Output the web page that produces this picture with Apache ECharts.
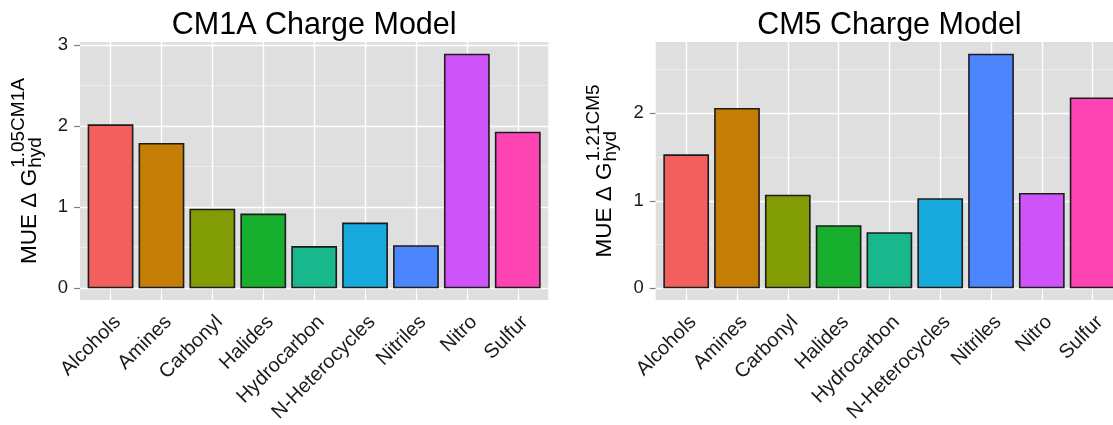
<!DOCTYPE html>
<html>
<head>
<meta charset="utf-8">
<script src="https://cdn.jsdelivr.net/npm/echarts@6/dist/echarts.min.js"></script>
<style>
  html, body { margin: 0; padding: 0; background: #ffffff; overflow: hidden; width: 1113px; height: 425px; }
  #chart { width: 1140px; height: 425px; }
</style>
</head>
<body>
<div id="chart"></div>
<script>
// Functional-group categories shared by both panels
const categories = ['Alcohols', 'Amines', 'Carbonyl', 'Halides', 'Hydrocarbon',
                    'N-Heterocycles', 'Nitriles', 'Nitro', 'Sulfur'];

// Mean unsigned error of hydration free energy, per group
const cm1aMue = [2.02, 1.79, 0.98, 0.92, 0.52, 0.81, 0.53, 2.89, 1.93];
const cm5Mue  = [1.53, 2.06, 1.07, 0.72, 0.64, 1.03, 2.68, 1.09, 2.18];

// Axis breaks
const cm1aTicks = [0, 1, 2, 3];
const cm5Ticks  = [0, 1, 2];
const cm1aMinor = [0.5, 1.5, 2.5];
const cm5Minor  = [0.5, 1.5, 2.5];

// Fill colour per group
const groupColors = ['#F35F5C', '#C57E05', '#829C06', '#18AF2F', '#18B78C',
                     '#17AADC', '#4D85FE', '#CE53F8', '#FE43B3'];

const FONT = '"Liberation Sans", Arial, Helvetica, sans-serif';
const TEXT_COLOR = '#1a1a1a';
const TICK_COLOR = '#7f7f7f';
const PANEL_BG = '#DFDFDF';

const panels = [
  { title: 'CM1A Charge Model', values: cm1aMue, ticks: cm1aTicks, minor: cm1aMinor,
    sup: '1.05CM1A', left: 80, top: 42, width: 468.3, height: 258, titleX: 30 },
  { title: 'CM5 Charge Model', values: cm5Mue, ticks: cm5Ticks, minor: cm5Minor,
    sup: '1.21CM5', left: 655.7, top: 42, width: 467.4, height: 258, titleX: 605 }
];

const positions = categories.map((_, i) => i + 1);

const measureCtx = document.createElement('canvas').getContext('2d');
function textWidth(str, size) {
  measureCtx.font = size + 'px ' + FONT;
  return measureCtx.measureText(str).width;
}

const grids = [], xAxes = [], yAxes = [], series = [], graphics = [];

panels.forEach((p, k) => {
  const vmax = Math.max(...p.values);
  const yMin = -0.05 * vmax, yMax = 1.05 * vmax;
  const unit = p.width / 9.2;

  grids.push({
    left: p.left, top: p.top, width: p.width, height: p.height,
    show: true, backgroundColor: PANEL_BG, borderWidth: 0, containLabel: false
  });

  xAxes.push({
    type: 'value', gridIndex: k, min: 0.4, max: 9.6,
    axisLine: { show: false },
    splitLine: { show: false },
    axisTick: { show: true, length: 6, customValues: positions,
                lineStyle: { color: TICK_COLOR, width: 1.2 } },
    axisLabel: {
      customValues: positions, rotate: 45, margin: 12,
      align: 'right', verticalAlign: 'top',
      formatter: v => categories[Math.round(v) - 1] || '',
      color: TEXT_COLOR, fontSize: 20, fontFamily: FONT
    }
  });

  yAxes.push({
    type: 'value', gridIndex: k, min: yMin, max: yMax,
    axisLine: { show: false },
    splitLine: { show: false },
    axisTick: { show: true, length: 6, customValues: p.ticks,
                lineStyle: { color: TICK_COLOR, width: 1.2 } },
    axisLabel: {
      customValues: p.ticks, margin: 12,
      color: TEXT_COLOR, fontSize: 18.5, fontFamily: FONT
    }
  });

  // Panel grid lines drawn beneath the bars
  const gridLines = []
    .concat(p.minor.map(v => ({ yAxis: v, lineStyle: { color: '#F2F2F2', width: 0.7, type: 'solid' } })))
    .concat(p.ticks.map(v => ({ yAxis: v, lineStyle: { color: '#FFFFFF', width: 1.4, type: 'solid' } })))
    .concat(positions.map(v => ({ xAxis: v, lineStyle: { color: '#FFFFFF', width: 1.4, type: 'solid' } })));

  series.push({
    type: 'bar', xAxisIndex: k, yAxisIndex: k, z: 3,
    barWidth: unit * 0.9,
    animation: false,
    data: p.values.map((v, i) => ({
      value: [positions[i], v],
      itemStyle: { color: groupColors[i] }
    })),
    itemStyle: { borderColor: '#1c1c1c', borderWidth: 1.6 },
    markLine: {
      silent: true, symbol: 'none', z: 1, animation: false,
      label: { show: false },
      data: gridLines
    }
  });

  // Panel heading
  graphics.push({
    type: 'text', x: p.left + p.width / 2, y: 26,
    style: { text: p.title, font: '30.5px ' + FONT, fill: '#000000',
             align: 'center', verticalAlign: 'middle' }
  });

  // Rotated y-axis title: MUE Δ G with stacked super/subscript
  const mainStr = 'MUE \u0394 G';
  const mainSize = 22.5, smallSize = 19;
  const wMain = textWidth(mainStr, mainSize);
  const wSmall = Math.max(textWidth(p.sup, smallSize), textWidth('hyd', smallSize));
  const total = wMain + 1 + wSmall;
  const centerY = p.top + p.height / 2;
  graphics.push({
    type: 'group', x: p.titleX, y: centerY + total / 2, rotation: Math.PI / 2,
    children: [
      { type: 'text', x: 0, y: 0,
        style: { text: mainStr, font: mainSize + 'px ' + FONT, fill: '#000000',
                 align: 'left', verticalAlign: 'middle' } },
      { type: 'text', x: wMain + 1, y: -11.7,
        style: { text: p.sup, font: smallSize + 'px ' + FONT, fill: '#000000',
                 align: 'left', verticalAlign: 'middle' } },
      { type: 'text', x: wMain + 1, y: 5.5,
        style: { text: 'hyd', font: smallSize + 'px ' + FONT, fill: '#000000',
                 align: 'left', verticalAlign: 'middle' } }
    ]
  });
});

const chart = echarts.init(document.getElementById('chart'), null, { renderer: 'canvas' });
chart.setOption({
  animation: false,
  backgroundColor: '#ffffff',
  grid: grids,
  xAxis: xAxes,
  yAxis: yAxes,
  series: series,
  graphic: graphics
});
</script>
</body>
</html>
